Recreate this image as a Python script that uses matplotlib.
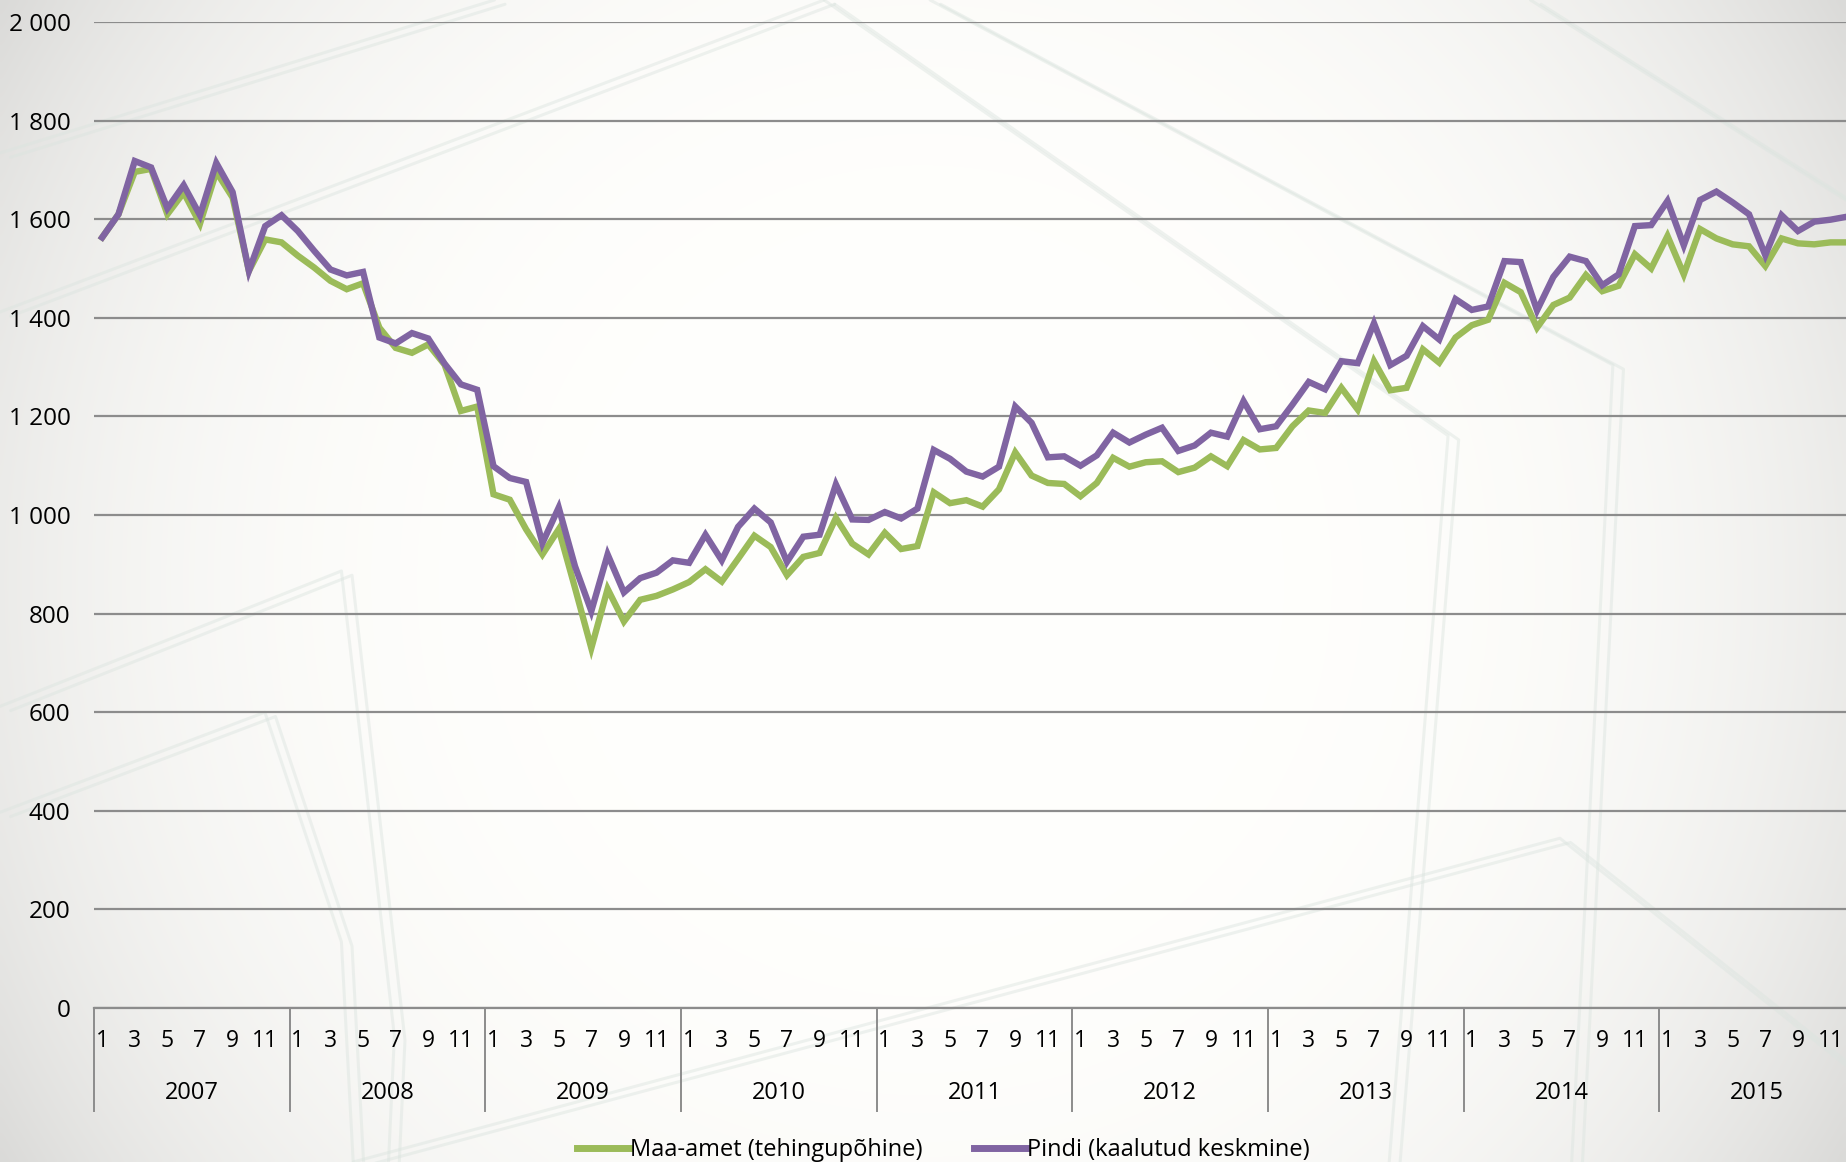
import numpy as np
import matplotlib.pyplot as plt
from matplotlib.lines import Line2D

# monthly values 2007-2015 (EUR/m2)
years = ["2007", "2008", "2009", "2010", "2011", "2012", "2013", "2014", "2015"]
month_labels = ["1", "3", "5", "7", "9", "11"]

maa_amet = [
    1563, 1610, 1696, 1702, 1610, 1654, 1591, 1696, 1644, 1495, 1559, 1553,
    1526, 1502, 1475, 1458, 1470, 1380, 1339, 1329, 1346, 1305, 1211, 1220,
    1042, 1031, 971, 920, 971, 852, 730, 850, 784, 828, 836, 849,
    864, 890, 865, 911, 958, 935, 878, 915, 923, 994, 942, 920,
    964, 931, 937, 1046, 1024, 1030, 1017, 1052, 1127, 1080, 1065, 1063,
    1038, 1065, 1116, 1098, 1107, 1109, 1087, 1096, 1119, 1099, 1152, 1133,
    1136, 1180, 1212, 1207, 1258, 1214, 1312, 1253, 1258, 1336, 1309, 1360,
    1385, 1396, 1471, 1452, 1380, 1426, 1441, 1487, 1454, 1465, 1529, 1500,
    1566, 1488, 1580, 1561, 1549, 1545, 1505, 1561, 1551, 1549, 1553, 1553,
]
pindi = [
    1563, 1610, 1718, 1705, 1622, 1669, 1608, 1714, 1655, 1495, 1586, 1608,
    1576, 1536, 1498, 1486, 1493, 1360, 1348, 1369, 1358, 1307, 1265, 1254,
    1099, 1075, 1067, 943, 1015, 896, 805, 920, 843, 872, 883, 908,
    903, 960, 908, 976, 1013, 985, 905, 956, 960, 1062, 991, 990,
    1006, 993, 1013, 1132, 1114, 1088, 1078, 1098, 1220, 1187, 1117, 1119,
    1100, 1121, 1167, 1147, 1163, 1177, 1130, 1141, 1167, 1159, 1231, 1174,
    1180, 1224, 1270, 1255, 1312, 1308, 1389, 1304, 1323, 1383, 1356, 1438,
    1416, 1423, 1515, 1513, 1415, 1483, 1524, 1515, 1466, 1488, 1586, 1588,
    1637, 1547, 1639, 1656, 1634, 1610, 1527, 1608, 1576, 1595, 1599, 1605,
]

GREEN = "#9bbb59"
PURPLE = "#8064a2"
plt.rcParams["font.family"] = ["Open Sans", "DejaVu Sans"]

fig = plt.figure(figsize=(18.46, 11.62), dpi=100)

# background: greyish edges, white centre, faint watermark strokes
bg = fig.add_axes([0, 0, 1, 1], zorder=0)
gx = np.linspace(-1, 1, 400)
gy = np.linspace(-1, 1, 300)
X, Y = np.meshgrid(gx, gy)
r = np.clip(np.sqrt((X * 0.97) ** 2 + (Y * 0.6) ** 2), 0, 1.2)
shade = 1 - 0.085 * r ** 4
img = np.clip(np.dstack([shade, shade * 0.999, shade * 0.99]), 0, 1)
bg.imshow(img, extent=[0, 1568, 987, 0], aspect="auto", interpolation="bicubic")
wm = [
    [(0, 265), (700, 0)],
    [(0, 130), (420, 0)],
    [(0, 600), (290, 485), (335, 880), (330, 987)],
    [(0, 690), (225, 605), (290, 800), (300, 987)],
    [(300, 987), (1325, 712), (1568, 905)],
    [(790, 0), (1370, 310), (1335, 987)],
    [(700, 0), (1230, 370), (1180, 987)],
    [(1300, 0), (1568, 170)],
]
for pts in wm:
    xs, ys = zip(*pts)
    for off in (0, 9):
        bg.plot(np.array(xs) + off, np.array(ys) + off * 0.4, color="#dbe4df",
                lw=2.2, alpha=0.45, solid_capstyle="round")
bg.set_xlim(0, 1568)
bg.set_ylim(987, 0)
bg.axis("off")

ax = fig.add_axes([94 / 1846, 1 - 1008 / 1162, 1761 / 1846, 986 / 1162], zorder=1)
ax.patch.set_alpha(0)

x = np.arange(len(maa_amet))
ax.plot(x, maa_amet, color=GREEN, lw=4.6, solid_joinstyle="miter", zorder=3)
ax.plot(x, pindi, color=PURPLE, lw=4.6, solid_joinstyle="miter", zorder=4)

ax.set_xlim(-0.5, len(maa_amet) - 0.5)
ax.set_ylim(0, 2000)
yt = np.arange(0, 2001, 200)
ax.set_yticks(yt)
ax.set_yticklabels([f"{v:,}".replace(",", " ") for v in yt], fontsize=17.5)
ax.tick_params(axis="y", length=0, pad=17)
ax.grid(axis="y", color="#8c8c8c", lw=1.6)
ax.set_axisbelow(True)
for s in ["top", "right", "left"]:
    ax.spines[s].set_visible(False)
ax.spines["bottom"].set_color("#8c8c8c")
ax.spines["bottom"].set_linewidth(1.6)

# two level category axis: months and years
ax.set_xticks([])
trans = ax.get_xaxis_transform()
for k, yr in enumerate(years):
    for j, m in enumerate(month_labels):
        ax.text(12 * k + 2 * j, -0.033, m, transform=trans, ha="center",
                va="center", fontsize=16.5)
    ax.text(12 * k + 5.5, -0.086, yr, transform=trans, ha="center",
            va="center", fontsize=17)
for k in range(len(years) + 1):
    ax.plot([12 * k - 0.5] * 2, [0, -0.104], transform=trans, color="#8c8c8c",
            lw=1.4, clip_on=False)

handles = [Line2D([], [], color=GREEN, lw=5), Line2D([], [], color=PURPLE, lw=5)]
fig.legend(handles, ["Maa-amet (tehingupõhine)", "Pindi (kaalutud keskmine)"],
           loc="center", bbox_to_anchor=(0.511, 1 - 1150 / 1162), ncol=2,
           frameon=False, handlelength=2.2, handletextpad=0.05,
           columnspacing=2.2, prop={"size": 17})

fig.savefig("out.png", dpi=100)
